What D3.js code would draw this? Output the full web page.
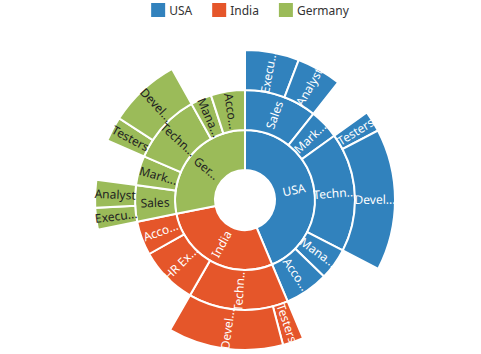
<!DOCTYPE html>
<html>
<head>
<meta charset="utf-8">
<script src="https://cdnjs.cloudflare.com/ajax/libs/d3/7.8.5/d3.min.js"></script>
<style>
  body { margin: 0; background: #fff; }
  svg { display: block; font-family: "Segoe UI", "Noto Sans", sans-serif; }
</style>
</head>
<body>
<svg id="chart"></svg>
<script>
// countries in drawing order (clockwise from 12 o'clock)
const countries = ['USA', 'India', 'Germany'];

// [department, job group (or null), employees]
const usaRows = [
    ['Sales', 'Executive', 70],
    ['Sales', 'Analyst', 58],
    ['Marketing', null, 53],
    ['Technical', 'Testers', 27],
    ['Technical', 'Developers', 183],
    ['Management', null, 56],
    ['Accounts', null, 77]
];
const indiaRows = [
    ['Technical', 'Testers', 27],
    ['Technical', 'Developers', 149],
    ['HR Executives', null, 102],
    ['Accounts', null, 60]
];
const germanyRows = [
    ['Sales', 'Executive', 28],
    ['Sales', 'Analyst', 36],
    ['Marketing', null, 52],
    ['Technical', 'Testers', 32],
    ['Technical', 'Developers', 93],
    ['Management', null, 37],
    ['Accounts', null, 60]
];

const rowsByCountry = { 'USA': usaRows, 'India': indiaRows, 'Germany': germanyRows };
const fills = { 'USA': '#3182bd', 'India': '#e5562a', 'Germany': '#9bbb59' };
const textFills = { 'USA': '#fff', 'India': '#fff', 'Germany': '#222' };

init();

function init() {
    const w = 481, h = 354;
    const cx = 245, cy = 200;

    const svg = d3.select('#chart').attr('width', w).attr('height', h);

    // build the tree from the rows
    const root = { name: 'root', children: countries.map(c => {
        let depts = [];
        rowsByCountry[c].forEach(r => {
            let d = depts.find(x => x.name === r[0]);
            if (!d) { d = { name: r[0], children: [] }; depts.push(d); }
            if (r[1]) d.children.push({ name: r[1], value: r[2] });
            else d.value = r[2];
        });
        depts.forEach(d => { if (!d.children.length) delete d.children; });
        return { name: c, children: depts };
    }) };

    const hier = d3.hierarchy(root).sum(d => d.children ? 0 : d.value);
    d3.partition().size([2 * Math.PI, 4])(hier);

    const r = d3.scaleLinear().domain([1, 4]).range([30, 150]);

    const arc = d3.arc()
        .startAngle(d => d.x0)
        .endAngle(d => d.x1)
        .innerRadius(d => r(d.depth))
        .outerRadius(d => r(d.depth + 1));

    const g = svg.append('g').attr('transform', 'translate(' + cx + ',' + cy + ')');
    const nodes = hier.descendants().filter(d => d.depth > 0);
    const top = d => d.ancestors().find(a => a.depth === 1).data.name;

    g.selectAll('path')
        .data(nodes)
        .join('path')
        .attr('d', arc)
        .attr('fill', d => fills[top(d)])
        .attr('stroke', '#fff')
        .attr('stroke-width', 2);

    // room for a label along the radius, per ring
    const maxLen = [0, 40, 43, 43];
    g.selectAll('text.lbl')
        .data(nodes)
        .join('text')
        .attr('class', 'lbl')
        .attr('font-size', '12px')
        .attr('text-anchor', 'middle')
        .attr('dy', '0.35em')
        .attr('fill', d => textFills[top(d)])
        .attr('transform', d => {
            const a = (d.x0 + d.x1) / 2 * 180 / Math.PI;
            const rad = (r(d.depth) + r(d.depth + 1)) / 2;
            return 'rotate(' + (a - 90) + ') translate(' + rad + ',0)' + (a > 180 ? ' rotate(180)' : '');
        })
        .each(function (d) {
            const t = d3.select(this);
            const full = d.data.name;
            const lim = maxLen[d.depth];
            t.text(full);
            if (this.getComputedTextLength() <= lim) return;
            let n = full.length - 1;
            while (n > 1) {
                t.text(full.slice(0, n) + '...');
                if (this.getComputedTextLength() <= lim) break;
                n--;
            }
        });

    // legend
    const leg = svg.append('g');
    let x = 0;
    countries.forEach(c => {
        const it = leg.append('g').attr('transform', 'translate(' + x + ',0)');
        it.append('rect').attr('x', 0).attr('y', 3).attr('width', 14).attr('height', 14).attr('fill', fills[c]);
        const t = it.append('text').attr('x', 18).attr('y', 15).attr('font-size', '12px').attr('fill', '#333').text(c);
        x += 18 + t.node().getComputedTextLength() + 20;
    });
    const lw = x - 20;
    leg.attr('transform', 'translate(' + (250 - lw / 2) + ',0)');
}
</script>
</body>
</html>
